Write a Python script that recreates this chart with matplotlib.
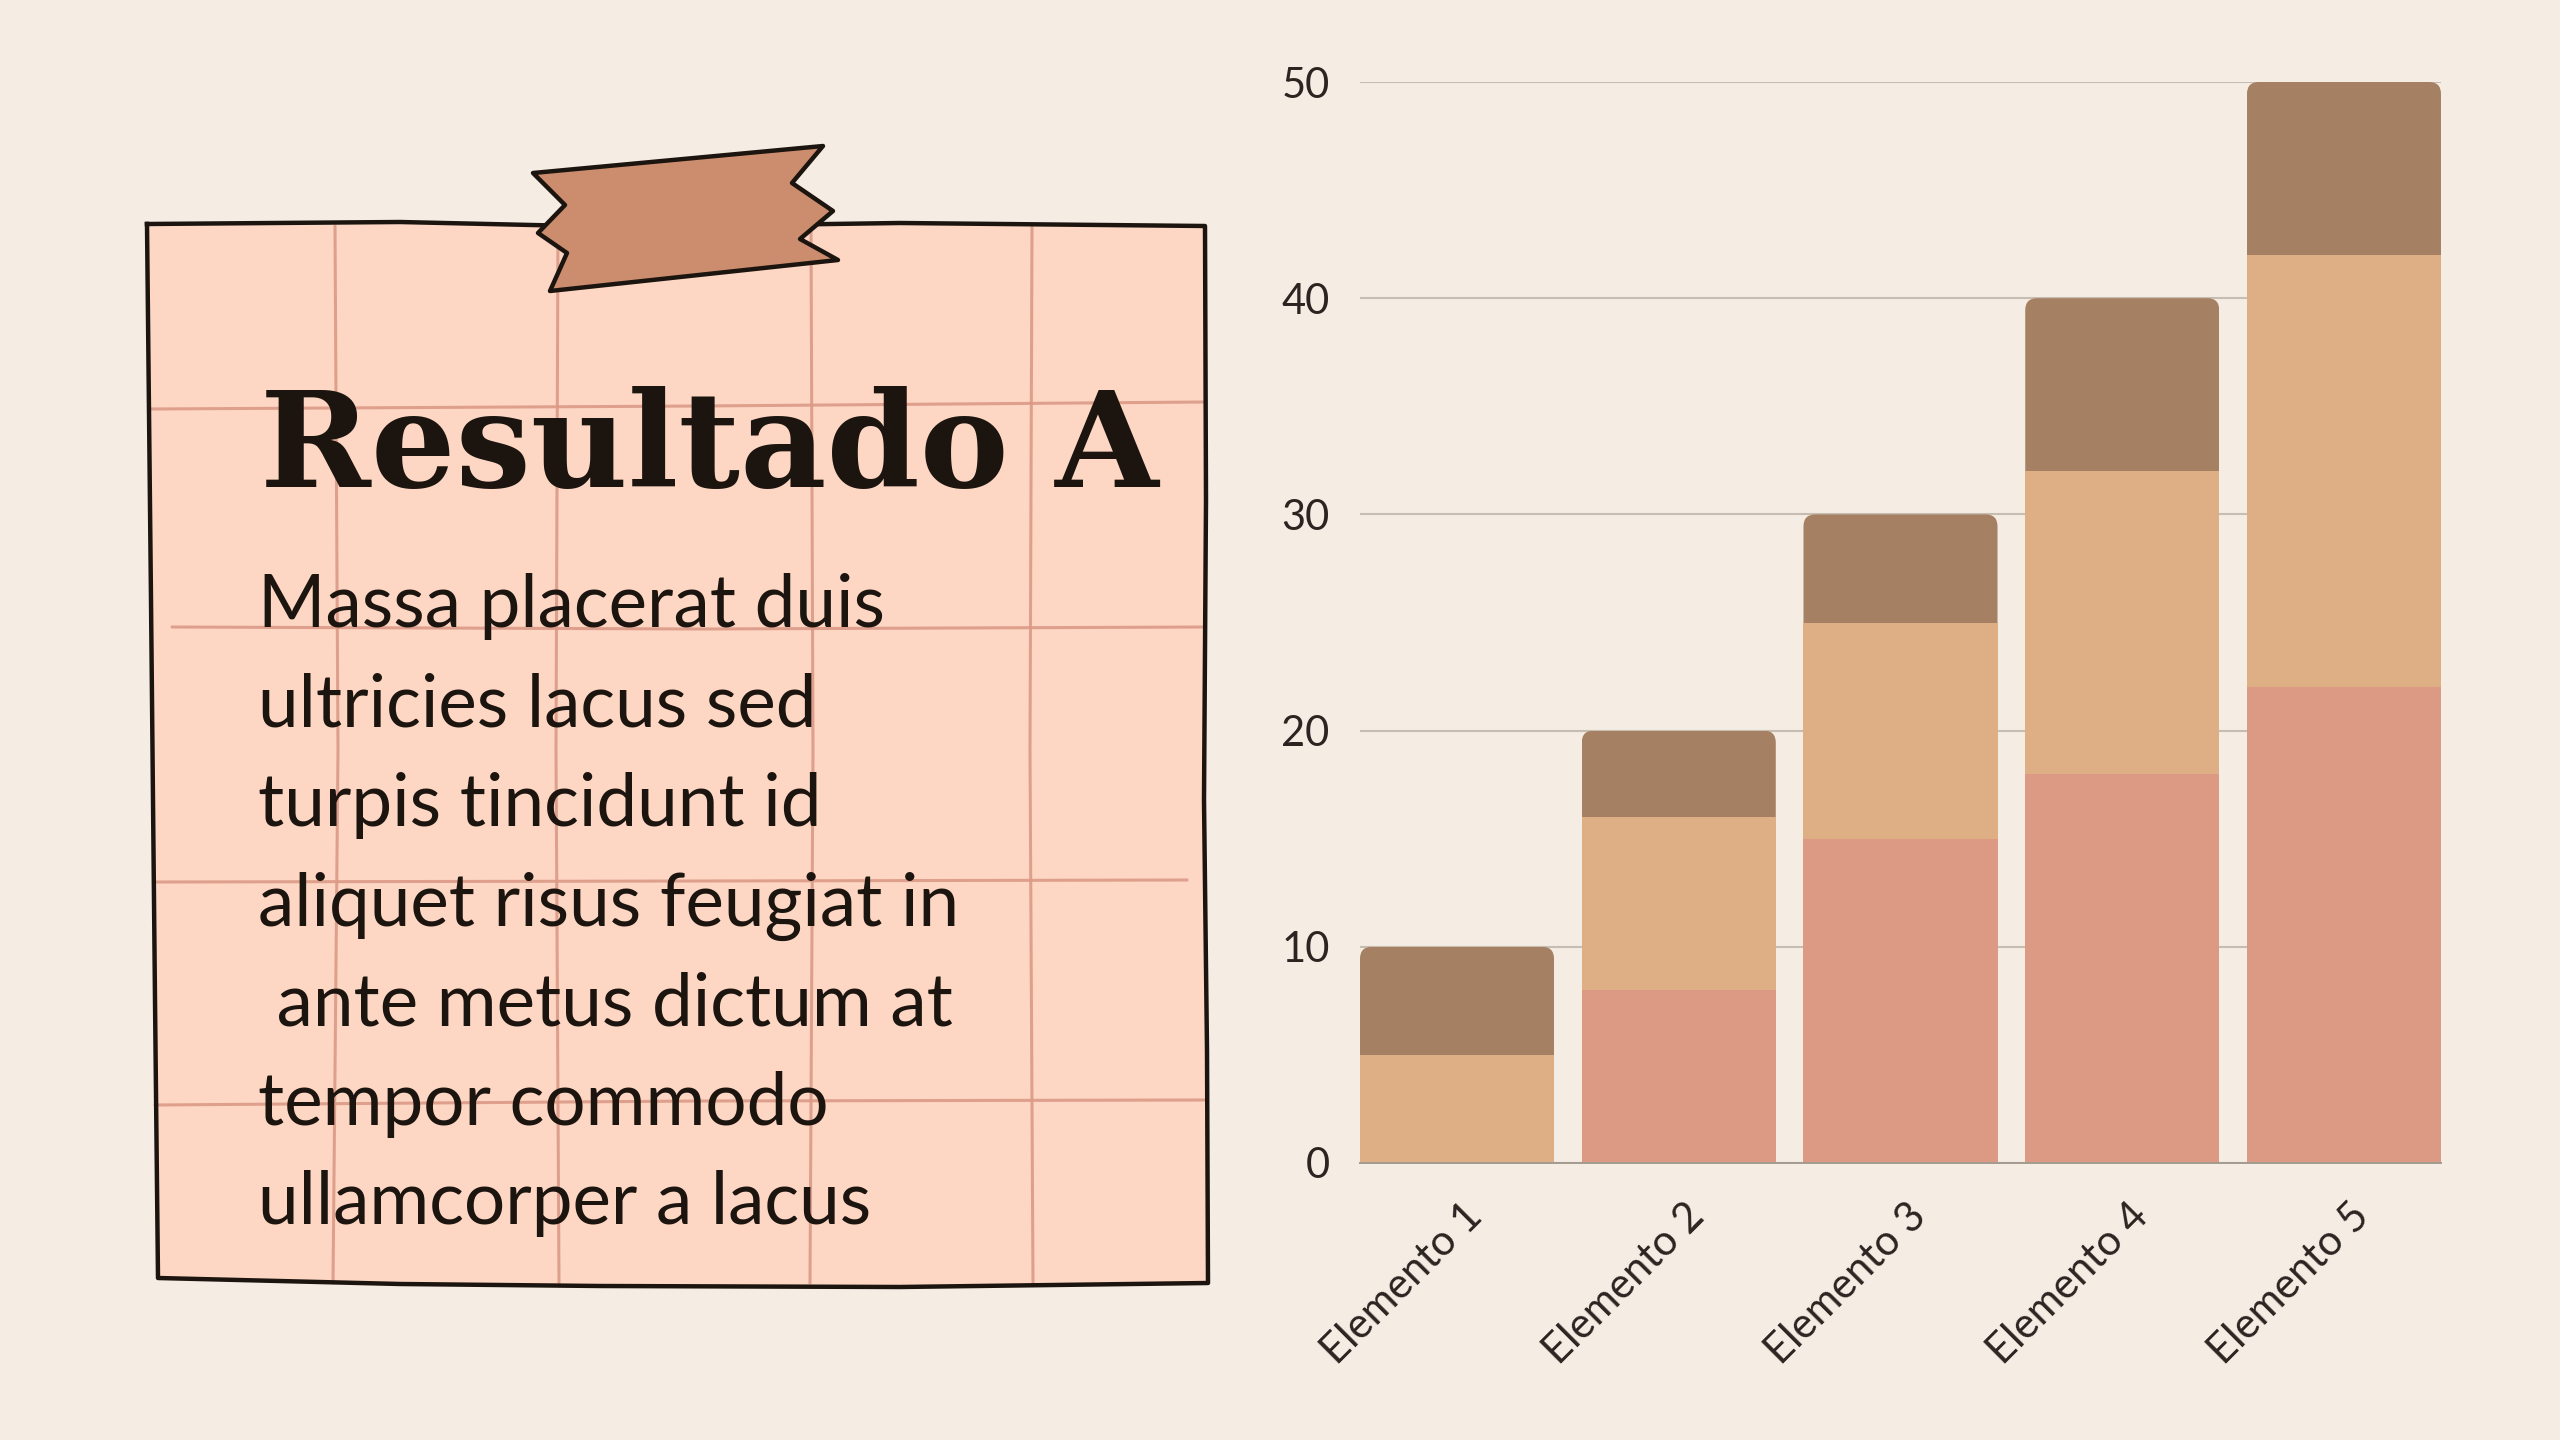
import matplotlib
matplotlib.use("Agg")
import matplotlib.pyplot as plt
from matplotlib.patches import Polygon, FancyBboxPatch
from matplotlib.transforms import ScaledTranslation

# chart data
categories = ["Elemento 1", "Elemento 2", "Elemento 3", "Elemento 4", "Elemento 5"]
serie_1 = [0, 8, 15, 18, 22]
serie_2 = [5, 8, 10, 14, 20]
serie_3 = [5, 4, 5, 8, 8]
y_ticks = [0, 10, 20, 30, 40, 50]

title = "Resultado A"
body_lines = [
    "Massa placerat duis",
    "ultricies lacus sed",
    "turpis tincidunt id",
    "aliquet risus feugiat in",
    " ante metus dictum at",
    "tempor commodo",
    "ullamcorper a lacus",
]

bg = "#F5EDE4"
c1, c2, c3 = "#DC9A85", "#DEAF84", "#A58062"
ink = "#1C150F"

W, H = 2560, 1440
fig = plt.figure(figsize=(W / 100, H / 100), dpi=100, facecolor=bg)

# full-figure axes in pixel coords for the note card
deco = fig.add_axes([0, 0, 1, 1], zorder=0)
deco.set_xlim(0, W)
deco.set_ylim(H, 0)
deco.axis("off")
deco.set_facecolor(bg)

border = [(147, 224), (400, 222), (620, 227), (900, 223), (1205, 226),
          (1206, 500), (1204, 800), (1207, 1050), (1208, 1283), (900, 1287),
          (600, 1286), (400, 1284), (158, 1278), (155, 1000), (151, 600),
          (147, 224)]
deco.add_patch(Polygon(border, closed=True, facecolor="#FDD7C4", edgecolor="none", zorder=1))

grid_col = "#DB9A86"
for xs in ([335, 338, 333], [558, 556, 559], [811, 813, 810], [1032, 1030, 1033]):
    deco.plot(xs, [226, 750, 1283], color=grid_col, lw=2.2, alpha=0.9, zorder=2,
              solid_capstyle="round")
for xs, ys in (([150, 700, 1205], [409, 406, 402]),
               ([172, 700, 1205], [627, 629, 627]),
               ([155, 700, 1187], [882, 881, 880]),
               ([155, 700, 1205], [1105, 1101, 1100])):
    deco.plot(xs, ys, color=grid_col, lw=2.2, alpha=0.9, zorder=2, solid_capstyle="round")

bx, by = zip(*border)
deco.plot(bx, by, color=ink, lw=3.2, zorder=3, solid_joinstyle="round")

tape = [(533, 173), (823, 146), (792, 183), (833, 211), (800, 239), (838, 260),
        (550, 291), (567, 253), (538, 233), (565, 205)]
deco.add_patch(Polygon(tape, closed=True, facecolor="#CB8D6E", edgecolor=ink,
                       lw=3.2, joinstyle="round", zorder=4))

deco.text(260, 487, title, fontsize=96, fontweight="heavy", family="DejaVu Serif",
          color=ink, ha="left", va="baseline", zorder=5)
for i, line in enumerate(body_lines):
    deco.text(258, 627 + i * 99.5, line, fontsize=52.5, family="Lato", color=ink,
              ha="left", va="baseline", zorder=5)

# stacked bar chart
ax = fig.add_axes([1360 / W, (H - 1163) / H, 1081 / W, 1081 / H], zorder=2)
ax.set_facecolor("none")
x = range(len(categories))
width = 0.875
bottom2 = serie_1
bottom3 = [a + b for a, b in zip(serie_1, serie_2)]
totals = [a + b for a, b in zip(bottom3, serie_3)]

ax.bar(x, serie_1, width, color=c1, zorder=3)
ax.bar(x, serie_2, width, bottom=bottom2, color=c2, zorder=3)
tops = ax.bar(x, serie_3, width, bottom=bottom3, color=c3, zorder=3)

ax.set_xlim(-width / 2, len(categories) - 1 + width / 2)
ax.set_ylim(0, 50)

# rounded top corners on the last segment
r_x = 12 * (ax.get_xlim()[1] - ax.get_xlim()[0]) / 1081
aspect = 50 / (ax.get_xlim()[1] - ax.get_xlim()[0])
for patch, tot in zip(tops, totals):
    clip = FancyBboxPatch((patch.get_x(), 0), patch.get_width(), tot,
                          boxstyle=f"round,pad=0,rounding_size={r_x}",
                          mutation_aspect=aspect, transform=ax.transData)
    patch.set_clip_path(clip)

ax.set_yticks(y_ticks)
ax.set_yticklabels([str(t) for t in y_ticks])
ax.yaxis.grid(True, color="#C6BDB3", lw=1.5, zorder=0)
ax.set_axisbelow(True)
for s in ["top", "right", "left"]:
    ax.spines[s].set_visible(False)
ax.spines["bottom"].set_color("#A39A90")
ax.spines["bottom"].set_linewidth(1.4)
ax.spines["bottom"].set_zorder(4)

ax.tick_params(axis="both", length=0, labelsize=30, labelcolor="#2B2420")
ax.tick_params(axis="y", pad=22)
ax.tick_params(axis="x", pad=24)
ax.set_xticks(list(x))
ax.set_xticklabels(categories, rotation=45, ha="right", va="top",
                   rotation_mode="anchor")
offset = ScaledTranslation(6 / 100, 0, fig.dpi_scale_trans)
for lab in ax.get_xticklabels() + ax.get_yticklabels():
    lab.set_family("Lato")
for lab in ax.get_xticklabels():
    lab.set_transform(lab.get_transform() + offset)

fig.savefig("out.png", dpi=100, facecolor=bg)
